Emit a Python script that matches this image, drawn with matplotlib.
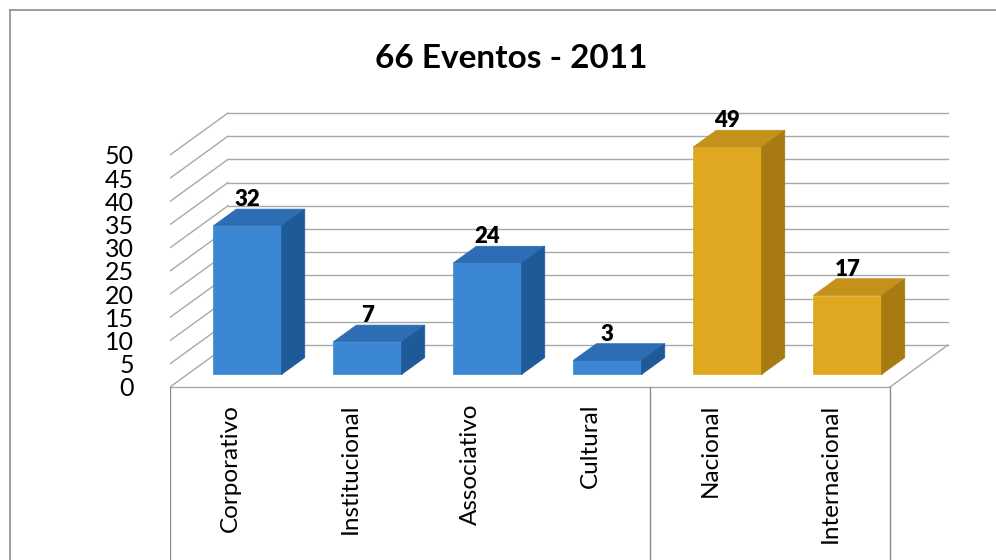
import matplotlib
matplotlib.use("Agg")
import matplotlib.pyplot as plt
from matplotlib.patches import Polygon
from matplotlib.lines import Line2D

categories = ["Corporativo", "Institucional", "Associativo", "Cultural", "Nacional", "Internacional"]
values = [32, 7, 24, 3, 49, 17]
groups = ["tipo", "tipo", "tipo", "tipo", "origem", "origem"]
y_ticks = [0, 5, 10, 15, 20, 25, 30, 35, 40, 45, 50]
title = "66 Eventos - 2011"

face = {"tipo": ("#3b87d3", "#2c6db3", "#1f5a98"),
        "origem": ("#e0a820", "#c4911a", "#a87b12")}

FONT = "Lato"
DX, DY = 0.483, 9.05      # depth offset (category units, value units)
D0, D1 = 0.3, 0.7          # bar depth range
W = 0.57
GRID = "#a9a9a9"

fig = plt.figure(figsize=(9.96, 5.6), dpi=100)
fig.patch.set_facecolor("white")
ax = fig.add_axes([170 / 996, 0, 826 / 996, 460 / 560])
ax.set_xlim(-0.5, -0.5 + 826 / 120)
ax.set_ylim(-(560 - 387) / 4.64, (387 - 100) / 4.64)
ax.set_facecolor("none")
for s in ax.spines.values():
    s.set_visible(False)

n = len(categories)
xl, xr = -0.5, n - 0.5

# gridlines: left wall diagonals + back wall horizontals
for v in y_ticks:
    ax.plot([xl, xl + DX], [v, v + DY], color=GRID, lw=1, zorder=1)
    ax.plot([xl + DX, xr + DX], [v + DY, v + DY], color=GRID, lw=1, zorder=1)
# floor edges
ax.plot([xl, xr], [0, 0], color=GRID, lw=1, zorder=1)
ax.plot([xr, xr + DX], [0, DY], color=GRID, lw=1, zorder=1)
# label box below floor
ybot = ax.get_ylim()[0]
for xv in [xl, 3.5, xr]:
    ax.plot([xv, xv], [0, ybot], color="#8c8c8c", lw=1, zorder=1)

# bars
for i, (v, g) in enumerate(zip(values, groups)):
    fc, tc, sc = face[g]
    x0 = i - W / 2
    x1 = i + W / 2
    ax.bar(i + D0 * DX, v, width=W, bottom=D0 * DY, color=fc, zorder=3,
           edgecolor=fc, linewidth=0.5)
    top = [(x0 + D0 * DX, v + D0 * DY), (x1 + D0 * DX, v + D0 * DY),
           (x1 + D1 * DX, v + D1 * DY), (x0 + D1 * DX, v + D1 * DY)]
    side = [(x1 + D0 * DX, D0 * DY), (x1 + D1 * DX, D1 * DY),
            (x1 + D1 * DX, v + D1 * DY), (x1 + D0 * DX, v + D0 * DY)]
    ax.add_patch(Polygon(top, closed=True, facecolor=tc, edgecolor=tc, lw=0.5, zorder=3))
    ax.add_patch(Polygon(side, closed=True, facecolor=sc, edgecolor=sc, lw=0.5, zorder=3))
    ax.text(i + D0 * DX, v + 8.4, str(v), ha="center", va="center",
            fontsize=16, fontweight="heavy", family=FONT, color="black", zorder=4)
    ax.text(i, -3.6, categories[i], rotation=90, ha="center", va="top",
            fontsize=17.5, family=FONT, color="black")

ax.set_xticks([])
ax.set_yticks(y_ticks)
ax.set_yticklabels([str(t) for t in y_ticks], fontsize=18, family=FONT)
ax.tick_params(axis="y", length=0, pad=26)

fig.text(511 / 996, 1 - 58 / 560, title, ha="center", va="center",
         fontsize=24, fontweight="bold", family=FONT)

# chart frame
fig.add_artist(Line2D([10 / 996, 10 / 996], [0, 1 - 10 / 560], transform=fig.transFigure,
                      color="#8c8c8c", lw=1.2))
fig.add_artist(Line2D([10 / 996, 1], [1 - 10 / 560, 1 - 10 / 560], transform=fig.transFigure,
                      color="#8c8c8c", lw=1.2))

fig.savefig("out.png", dpi=100, facecolor="white")
